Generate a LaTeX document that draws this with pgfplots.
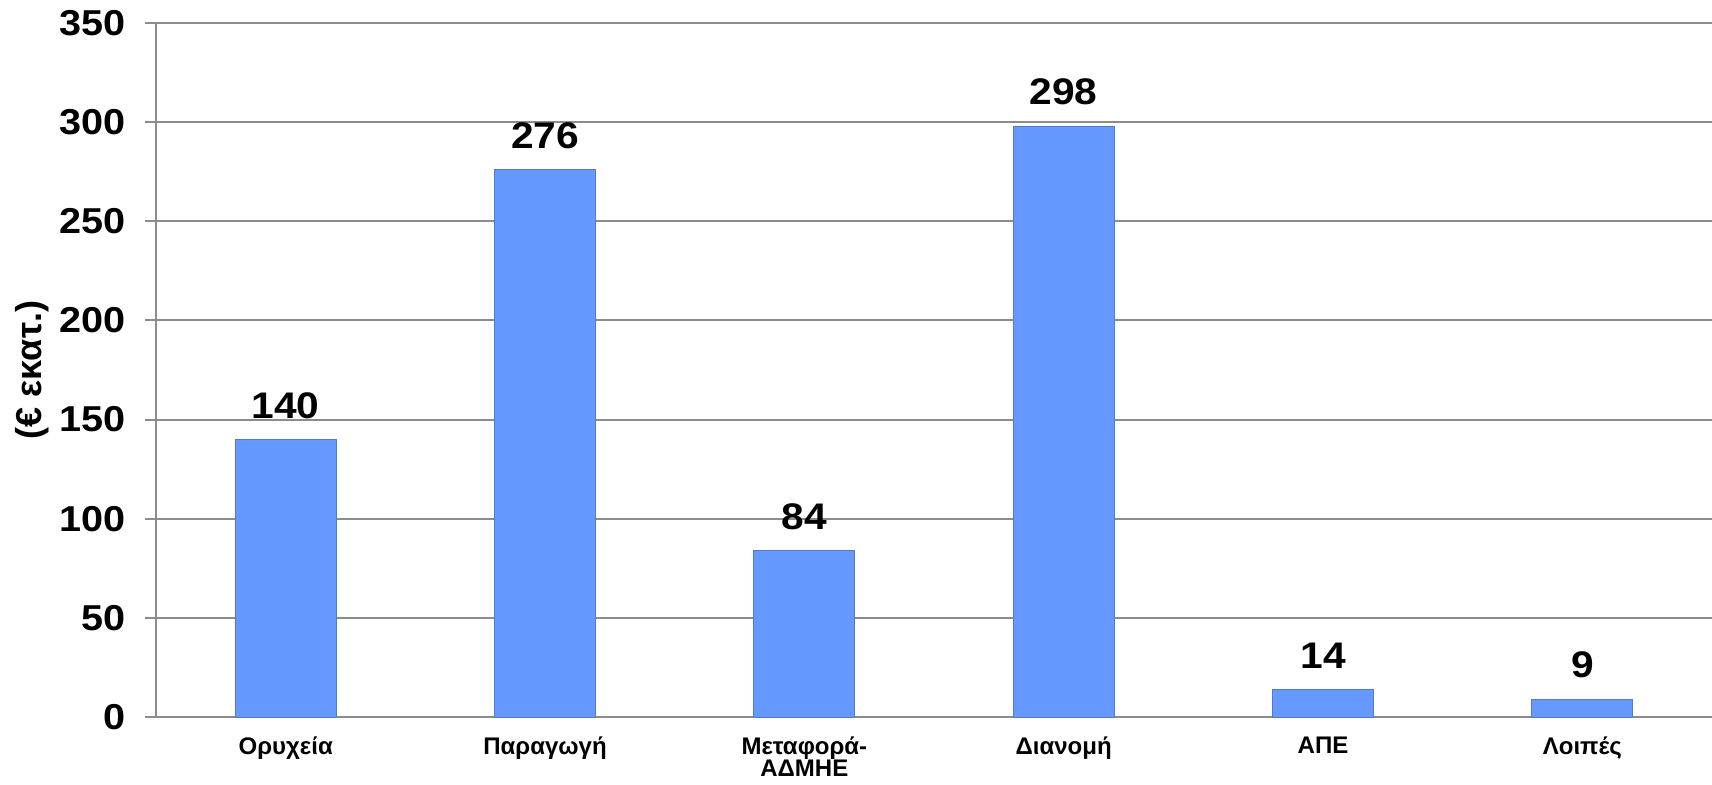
\documentclass[border=0pt]{standalone}
\usepackage{pgfplots}
\pgfplotsset{compat=1.18}
\usepackage{fontspec}
\setmainfont{Liberation Sans}
\definecolor{barblue}{HTML}{6699FF}
\definecolor{gridgray}{HTML}{8C8C8C}
\begin{document}
\begin{tikzpicture}
\begin{axis}[
  scale only axis,
  width=1556pt, height=694pt,
  ybar, bar width=101pt,
  xmin=-0.5, xmax=5.5, ymin=0, ymax=350,
  xtick={0,...,5},
  xticklabels={Ορυχεία,Παραγωγή,{Μεταφορά-\\ΑΔΜΗΕ},Διανομή,ΑΠΕ,Λοιπές},
  ytick={0,50,...,350},
  ymajorgrids,
  grid style={gridgray, line width=2pt},
  axis x line*=bottom, axis y line*=left,
  axis line style={gridgray, line width=2pt},
  xtick style={draw=none},
  ytick style={gridgray, line width=2pt},
  tick align=outside, major tick length=11pt,
  /pgf/number format/assume math mode=true,
  yticklabel style={font=\fontsize{36}{40}\selectfont\bfseries, black, xscale=1.1, xshift=-14pt},
  xticklabel style={font=\fontsize{24}{22}\selectfont\bfseries, align=center, black, yshift=-5pt},
  ylabel={(€ εκατ.)},
  ylabel style={font=\fontsize{36}{40}\selectfont\bfseries, at={(axis description cs:-0.0797,0.5)}, anchor=center},
  nodes near coords,
  nodes near coords style={font=\fontsize{37}{40}\selectfont\bfseries, black, anchor=south, xscale=1.1, yshift=17pt},
  clip=false,
]
\addplot[fill=barblue, draw=barblue!80!black, line width=1pt] coordinates {(0,140) (1,276) (2,84) (3,298) (4,14) (5,9)};
\coordinate (bl) at (axis description cs:-0.10026,-0.09654);
\coordinate (tr) at (axis description cs:1,1.03314);
\end{axis}
\pgfresetboundingbox
\path[use as bounding box] (bl) rectangle (tr);
\end{tikzpicture}
\end{document}
